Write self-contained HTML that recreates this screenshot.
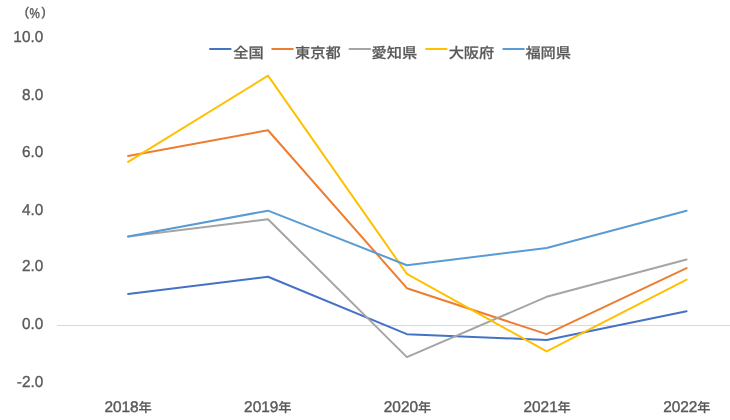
<!DOCTYPE html>
<html><head><meta charset="utf-8"><style>
html,body{margin:0;padding:0;background:#fff;}
svg{display:block;will-change:transform;}
text{fill:#595959;font-family:"Liberation Sans","Noto Sans CJK JP",sans-serif;text-rendering:geometricPrecision;}
.yl{font-size:15.8px;stroke:#595959;stroke-width:0.35px;}
.xl{font-size:15.4px;stroke:#595959;stroke-width:0.4px;}
.nen{font-size:13px;font-weight:500;stroke:#595959;stroke-width:0.2px;}
.lg{font-size:14.5px;font-weight:500;stroke:#595959;stroke-width:0.2px;}
.pc{font-size:12.55px;stroke:#595959;stroke-width:0.35px;}
.pc2{font-size:14px;stroke:#595959;stroke-width:0.4px;}
</style></head><body>
<svg width="730" height="420" viewBox="0 0 730 420">
<rect width="730" height="420" fill="#fff"/>
<text x="24.7" y="16.2" class="pc">(</text><text transform="translate(29.6,17.8) scale(0.83,1)" class="pc2">%</text><text x="41.6" y="16.2" class="pc">)</text>
<text transform="translate(43.2,42.00) scale(0.97,1)" text-anchor="end" class="yl">10.0</text>
<text transform="translate(43.2,100.00) scale(0.97,1)" text-anchor="end" class="yl">8.0</text>
<text transform="translate(43.2,157.00) scale(0.97,1)" text-anchor="end" class="yl">6.0</text>
<text transform="translate(43.2,215.00) scale(0.97,1)" text-anchor="end" class="yl">4.0</text>
<text transform="translate(43.2,271.00) scale(0.97,1)" text-anchor="end" class="yl">2.0</text>
<text transform="translate(43.2,329.00) scale(0.97,1)" text-anchor="end" class="yl">0.0</text>
<text transform="translate(43.2,387.00) scale(0.97,1)" text-anchor="end" class="yl">-2.0</text>
<line x1="57" y1="325.5" x2="730" y2="325.5" stroke="#D9D9D9" stroke-width="1"/>
<polyline points="128.10,293.96 268.00,276.73 406.90,334.17 546.60,339.91 686.60,311.19" fill="none" stroke="#4472C4" stroke-width="2.0" stroke-linejoin="round" stroke-linecap="round"/>
<polyline points="128.10,156.10 268.00,130.25 406.90,288.21 546.60,334.17 686.60,268.11" fill="none" stroke="#ED7D31" stroke-width="2.0" stroke-linejoin="round" stroke-linecap="round"/>
<polyline points="128.10,236.52 268.00,219.29 406.90,357.14 546.60,296.83 686.60,259.49" fill="none" stroke="#A5A5A5" stroke-width="2.0" stroke-linejoin="round" stroke-linecap="round"/>
<polyline points="128.10,161.85 268.00,75.69 406.90,273.85 546.60,351.40 686.60,279.60" fill="none" stroke="#FFC000" stroke-width="2.0" stroke-linejoin="round" stroke-linecap="round"/>
<polyline points="128.10,236.52 268.00,210.67 406.90,265.24 546.60,248.01 686.60,210.67" fill="none" stroke="#5B9BD5" stroke-width="2.0" stroke-linejoin="round" stroke-linecap="round"/>
<text x="104.40" y="411.8" class="xl">2018</text>
<text transform="translate(138.50,411.8) scale(1.02,1)" class="nen">年</text>
<text x="244.10" y="411.8" class="xl">2019</text>
<text transform="translate(278.20,411.8) scale(1.02,1)" class="nen">年</text>
<text x="383.80" y="411.8" class="xl">2020</text>
<text transform="translate(417.90,411.8) scale(1.02,1)" class="nen">年</text>
<text x="523.50" y="411.8" class="xl">2021</text>
<text transform="translate(557.60,411.8) scale(1.02,1)" class="nen">年</text>
<text x="663.20" y="411.8" class="xl">2022</text>
<text transform="translate(697.30,411.8) scale(1.02,1)" class="nen">年</text>
<line x1="210.00" y1="49" x2="230.60" y2="49" stroke="#4472C4" stroke-width="2" stroke-linecap="round"/>
<text transform="translate(233.30,57.8) scale(1.05,1)" class="lg">全国</text>
<line x1="272.20" y1="49" x2="292.80" y2="49" stroke="#ED7D31" stroke-width="2" stroke-linecap="round"/>
<text transform="translate(295.05,57.8) scale(1.05,1)" class="lg">東京都</text>
<line x1="349.50" y1="49" x2="370.10" y2="49" stroke="#A5A5A5" stroke-width="2" stroke-linecap="round"/>
<text transform="translate(371.55,57.8) scale(1.05,1)" class="lg">愛知県</text>
<line x1="426.10" y1="49" x2="446.70" y2="49" stroke="#FFC000" stroke-width="2" stroke-linecap="round"/>
<text transform="translate(448.65,57.8) scale(1.05,1)" class="lg">大阪府</text>
<line x1="503.30" y1="49" x2="523.90" y2="49" stroke="#5B9BD5" stroke-width="2" stroke-linecap="round"/>
<text transform="translate(525.40,57.8) scale(1.05,1)" class="lg">福岡県</text>
</svg>
</body></html>
